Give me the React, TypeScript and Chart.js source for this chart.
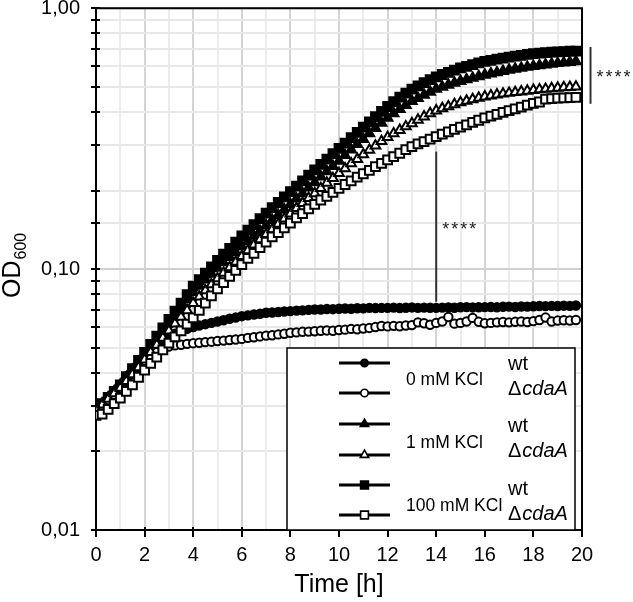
import React, { useEffect, useRef } from "react";
import { Chart, registerables } from "chart.js";

Chart.register(...registerables);

const FONT = "'Liberation Sans', Arial, Helvetica, sans-serif";

// time in hours (15-min sampling)
const timeH = [
  0, 0.25, 0.5, 0.75, 1, 1.25, 1.5, 1.75, 2, 2.25,
  2.5, 2.75, 3, 3.25, 3.5, 3.75, 4, 4.25, 4.5, 4.75,
  5, 5.25, 5.5, 5.75, 6, 6.25, 6.5, 6.75, 7, 7.25,
  7.5, 7.75, 8, 8.25, 8.5, 8.75, 9, 9.25, 9.5, 9.75,
  10, 10.25, 10.5, 10.75, 11, 11.25, 11.5, 11.75, 12, 12.25,
  12.5, 12.75, 13, 13.25, 13.5, 13.75, 14, 14.25, 14.5, 14.75,
  15, 15.25, 15.5, 15.75, 16, 16.25, 16.5, 16.75, 17, 17.25,
  17.5, 17.75, 18, 18.25, 18.5, 18.75, 19, 19.25, 19.5, 19.75,
];

const wt0 = [
  0.0290, 0.0305, 0.0320, 0.0340, 0.0360, 0.0385, 0.0410, 0.0435, 0.0460, 0.0485,
  0.0510, 0.0530, 0.0550, 0.0565, 0.0580, 0.0590, 0.0600, 0.0608, 0.0615, 0.0622,
  0.0630, 0.0637, 0.0645, 0.0652, 0.0660, 0.0665, 0.0670, 0.0674, 0.0680, 0.0682,
  0.0685, 0.0688, 0.0690, 0.0693, 0.0695, 0.0698, 0.0700, 0.0700, 0.0703, 0.0702,
  0.0705, 0.0706, 0.0705, 0.0708, 0.0707, 0.0710, 0.0709, 0.0710, 0.0710, 0.0712,
  0.0709, 0.0711, 0.0713, 0.0710, 0.0712, 0.0711, 0.0710, 0.0712, 0.0713, 0.0711,
  0.0714, 0.0715, 0.0713, 0.0714, 0.0715, 0.0716, 0.0714, 0.0717, 0.0718, 0.0716,
  0.0719, 0.0718, 0.0720, 0.0722, 0.0721, 0.0723, 0.0722, 0.0724, 0.0723, 0.0725,
];

const cdaA0 = [
  0.0290, 0.0300, 0.0315, 0.0330, 0.0350, 0.0370, 0.0395, 0.0420, 0.0445, 0.0465,
  0.0480, 0.0495, 0.0505, 0.0510, 0.0513, 0.0517, 0.0520, 0.0522, 0.0525, 0.0527,
  0.0530, 0.0532, 0.0535, 0.0537, 0.0540, 0.0545, 0.0548, 0.0552, 0.0556, 0.0558,
  0.0562, 0.0565, 0.0570, 0.0572, 0.0575, 0.0576, 0.0578, 0.0580, 0.0582, 0.0580,
  0.0584, 0.0586, 0.0590, 0.0588, 0.0592, 0.0595, 0.0600, 0.0605, 0.0603, 0.0606,
  0.0604, 0.0608, 0.0610, 0.0625, 0.0620, 0.0612, 0.0622, 0.0630, 0.0655, 0.0618,
  0.0622, 0.0630, 0.0650, 0.0628, 0.0620, 0.0622, 0.0625, 0.0627, 0.0625, 0.0628,
  0.0630, 0.0627, 0.0632, 0.0638, 0.0652, 0.0630, 0.0635, 0.0637, 0.0635, 0.0638,
];

const wt1 = [
  0.0290, 0.0305, 0.0322, 0.0340, 0.0360, 0.0385, 0.0410, 0.0440, 0.0470, 0.0503,
  0.0537, 0.0578, 0.0622, 0.0668, 0.0715, 0.0765, 0.0815, 0.0862, 0.0910, 0.0958,
  0.1010, 0.106, 0.111, 0.116, 0.122, 0.128, 0.134, 0.140, 0.147, 0.154,
  0.161, 0.169, 0.177, 0.186, 0.195, 0.205, 0.215, 0.226, 0.237, 0.248,
  0.260, 0.273, 0.287, 0.301, 0.315, 0.331, 0.347, 0.363, 0.380, 0.395,
  0.410, 0.425, 0.440, 0.452, 0.465, 0.478, 0.490, 0.499, 0.508, 0.517,
  0.525, 0.533, 0.540, 0.548, 0.555, 0.561, 0.567, 0.574, 0.580, 0.585,
  0.590, 0.595, 0.600, 0.604, 0.608, 0.612, 0.615, 0.618, 0.621, 0.625,
];

const cdaA1 = [
  0.0290, 0.0302, 0.0318, 0.0334, 0.0350, 0.0372, 0.0395, 0.0420, 0.0450, 0.0480,
  0.0512, 0.0545, 0.0580, 0.0618, 0.0655, 0.0695, 0.0740, 0.0783, 0.0828, 0.0873,
  0.0920, 0.0967, 0.1015, 0.1065, 0.112, 0.118, 0.124, 0.130, 0.136, 0.142,
  0.149, 0.156, 0.163, 0.171, 0.179, 0.187, 0.195, 0.204, 0.214, 0.223,
  0.233, 0.243, 0.254, 0.264, 0.275, 0.286, 0.297, 0.309, 0.320, 0.331,
  0.341, 0.352, 0.362, 0.373, 0.384, 0.395, 0.405, 0.413, 0.420, 0.428,
  0.435, 0.441, 0.447, 0.453, 0.458, 0.462, 0.466, 0.470, 0.473, 0.476,
  0.479, 0.482, 0.485, 0.488, 0.490, 0.493, 0.495, 0.497, 0.498, 0.500,
];

const wt100 = [
  0.0290, 0.0305, 0.0322, 0.0340, 0.0360, 0.0387, 0.0415, 0.0447, 0.0480, 0.0515,
  0.0553, 0.0595, 0.0642, 0.0690, 0.0740, 0.0798, 0.0860, 0.0912, 0.0965, 0.102,
  0.108, 0.114, 0.120, 0.127, 0.134, 0.141, 0.148, 0.156, 0.164, 0.172,
  0.180, 0.189, 0.198, 0.208, 0.218, 0.229, 0.240, 0.252, 0.264, 0.277,
  0.290, 0.304, 0.319, 0.334, 0.350, 0.367, 0.384, 0.402, 0.420, 0.438,
  0.456, 0.473, 0.490, 0.504, 0.518, 0.532, 0.545, 0.557, 0.568, 0.579,
  0.590, 0.599, 0.608, 0.617, 0.625, 0.631, 0.638, 0.644, 0.650, 0.655,
  0.660, 0.665, 0.670, 0.673, 0.676, 0.678, 0.680, 0.682, 0.684, 0.685,
];

const cdaA100 = [
  0.0275, 0.0278, 0.0290, 0.0305, 0.0320, 0.0340, 0.0360, 0.0385, 0.0410, 0.0435,
  0.0460, 0.0490, 0.0520, 0.0550, 0.0580, 0.0615, 0.0650, 0.0695, 0.0740, 0.0790,
  0.0840, 0.0888, 0.0937, 0.0988, 0.104, 0.110, 0.115, 0.121, 0.127, 0.133,
  0.138, 0.144, 0.150, 0.157, 0.163, 0.170, 0.177, 0.184, 0.190, 0.197,
  0.204, 0.211, 0.218, 0.225, 0.232, 0.239, 0.247, 0.254, 0.262, 0.270,
  0.278, 0.287, 0.295, 0.302, 0.308, 0.315, 0.322, 0.329, 0.336, 0.343,
  0.350, 0.357, 0.365, 0.372, 0.380, 0.386, 0.392, 0.399, 0.405, 0.411,
  0.418, 0.425, 0.432, 0.437, 0.448, 0.450, 0.452, 0.453, 0.454, 0.455,
];

// axis ticks
const xTickLabels = [0, 2, 4, 6, 8, 10, 12, 14, 16, 18, 20];
const yTickValues = [0.01, 0.1, 1];
const yTickLabels = ["0,01", "0,10", "1,00"];

// legend text
const legendConc = ["0 mM KCl", "1 mM KCl", "100 mM KCl"];
const legendWt = "wt";
const legendMutPrefix = "\u0394";
const legendMutName = "cdaA";

// significance brackets
const sigTimes = [20.35, 14];
const sigTop = [0.71, 0.282];
const sigBottom = [0.43, 0.075];
const sigLabels = ["****", "****"];

type Marker = { style: "circle" | "triangle" | "rect"; filled: boolean };
const seriesMarkers: Marker[] = [
  { style: "circle", filled: true },
  { style: "circle", filled: false },
  { style: "triangle", filled: true },
  { style: "triangle", filled: false },
  { style: "rect", filled: true },
  { style: "rect", filled: false },
];
const seriesValues = [wt0, cdaA0, wt1, cdaA1, wt100, cdaA100];
const seriesNames = ["wt 0 mM", "cdaA 0 mM", "wt 1 mM", "cdaA 1 mM", "wt 100 mM", "cdaA 100 mM"];
const seriesOrder = [6, 3, 5, 2, 4, 1];

function radiusFor(style: string) {
  if (style === "rect") return 6.2;
  if (style === "triangle") return 5.6;
  return 4.2;
}

function drawMarker(ctx: CanvasRenderingContext2D, m: Marker, x: number, y: number) {
  ctx.save();
  ctx.fillStyle = m.filled ? "#000" : "#fff";
  ctx.strokeStyle = "#000";
  ctx.lineWidth = 1.6;
  ctx.beginPath();
  if (m.style === "circle") {
    ctx.arc(x, y, 3.7, 0, Math.PI * 2);
  } else if (m.style === "rect") {
    const s = 3.9;
    ctx.rect(x - s, y - s, 2 * s, 2 * s);
  } else {
    const r = 4.8;
    const h = (r * 3) / 2;
    const e = r * Math.sqrt(3);
    ctx.moveTo(x - e / 2, y + h / 3);
    ctx.lineTo(x + e / 2, y + h / 3);
    ctx.lineTo(x, y - (2 * h) / 3);
    ctx.closePath();
  }
  ctx.fill();
  ctx.stroke();
  ctx.restore();
}

const decorPlugin = {
  id: "decor",
  afterDraw(chart: any) {
    const ctx: CanvasRenderingContext2D = chart.ctx;
    const { left, right, top, bottom } = chart.chartArea;
    const xs = chart.scales.x;
    const ys = chart.scales.y;
    ctx.save();

    // frame (top + right)
    ctx.strokeStyle = "#000";
    ctx.lineWidth = 2;
    ctx.beginPath();
    ctx.moveTo(left, top);
    ctx.lineTo(right, top);
    ctx.lineTo(right, bottom);
    ctx.stroke();

    // y ticks crossing the axis
    ctx.lineWidth = 2;
    for (const t of ys.ticks) {
      const py = Math.round(ys.getPixelForValue(t.value));
      ctx.beginPath();
      ctx.moveTo(left - 5, py);
      ctx.lineTo(left + 4, py);
      ctx.stroke();
    }
    // x ticks crossing the axis
    for (const v of xTickLabels) {
      const px = Math.round(xs.getPixelForValue(v));
      ctx.beginPath();
      ctx.moveTo(px, bottom - 3);
      ctx.lineTo(px, bottom + 7);
      ctx.stroke();
    }

    // significance brackets
    for (let i = 0; i < sigTimes.length; i++) {
      const px = xs.getPixelForValue(sigTimes[i]);
      const y1 = ys.getPixelForValue(sigTop[i]);
      const y2 = ys.getPixelForValue(sigBottom[i]);
      ctx.strokeStyle = "#333";
      ctx.lineWidth = 2;
      ctx.beginPath();
      ctx.moveTo(px, y1);
      ctx.lineTo(px, y2);
      ctx.stroke();
      ctx.fillStyle = "#222";
      ctx.font = `18px ${FONT}`;
      (ctx as any).letterSpacing = "2px";
      ctx.textAlign = "left";
      ctx.textBaseline = "alphabetic";
      ctx.fillText(sigLabels[i], px + 6, (y1 + y2) / 2 + 8);
      (ctx as any).letterSpacing = "0px";
    }

    // legend box
    const bx = 287, by = 348, bw = 288, bh = bottom - 348;
    ctx.fillStyle = "#fff";
    ctx.fillRect(bx, by, bw, bh);
    ctx.strokeStyle = "#000";
    ctx.lineWidth = 1.5;
    ctx.strokeRect(bx, by, bw, bh);

    const rowY = [363, 393, 424, 455, 485, 515];
    for (let i = 0; i < 6; i++) {
      ctx.strokeStyle = "#000";
      ctx.lineWidth = 3;
      ctx.beginPath();
      ctx.moveTo(339, rowY[i]);
      ctx.lineTo(390, rowY[i]);
      ctx.stroke();
      drawMarker(ctx, seriesMarkers[i], 364.5, rowY[i]);
    }
    ctx.fillStyle = "#000";
    ctx.textAlign = "left";
    ctx.textBaseline = "alphabetic";
    const concBase = [385, 448, 511];
    const wtBase = [370, 432, 495];
    const mutBase = [395, 457, 520];
    for (let g = 0; g < 3; g++) {
      ctx.font = `17.5px ${FONT}`;
      ctx.fillText(legendConc[g], 406, concBase[g]);
      ctx.font = `20px ${FONT}`;
      ctx.fillText(legendWt, 508, wtBase[g]);
      ctx.fillText(legendMutPrefix, 508, mutBase[g]);
      const dw = ctx.measureText(legendMutPrefix).width;
      ctx.font = `italic 20px ${FONT}`;
      ctx.fillText(legendMutName, 508 + dw + 1, mutBase[g]);
    }

    // x axis title
    ctx.font = `25px ${FONT}`;
    ctx.textAlign = "center";
    ctx.textBaseline = "middle";
    ctx.fillText("Time [h]", (left + right) / 2, 585);

    // y axis title OD600 (rotated)
    ctx.save();
    ctx.translate(20, 298);
    ctx.rotate(-Math.PI / 2);
    ctx.textAlign = "left";
    ctx.textBaseline = "alphabetic";
    ctx.font = `25px ${FONT}`;
    ctx.fillText("OD", 0, 0);
    const odw = ctx.measureText("OD").width;
    ctx.font = `16px ${FONT}`;
    ctx.fillText("600", odw + 1, 6);
    ctx.restore();

    ctx.restore();
  },
};

export default function App() {
  const ref = useRef<HTMLCanvasElement | null>(null);
  useEffect(() => {
    if (!ref.current) return;
    const datasets = seriesValues.map((vals, i) => {
      const m = seriesMarkers[i];
      return {
        label: seriesNames[i],
        data: vals.map((v, k) => ({ x: timeH[k], y: v })),
        showLine: true,
        borderColor: "#000",
        borderWidth: 2,
        pointStyle: m.style,
        pointRadius: radiusFor(m.style),
        pointBackgroundColor: m.filled ? "#000" : "#fff",
        pointBorderColor: "#000",
        pointBorderWidth: 2,
        order: seriesOrder[i],
      };
    });
    const isMajor = (v: number) => yTickValues.some((t) => Math.abs(t - v) < 1e-9);
    const chart = new Chart(ref.current, {
      type: "scatter",
      data: { datasets },
      options: {
        animation: false,
        responsive: false,
        devicePixelRatio: 1,
        layout: { padding: { left: 0, top: 6, right: 51, bottom: 0 } },
        plugins: {
          legend: { display: false },
          tooltip: { enabled: false },
        },
        scales: {
          x: {
            type: "linear",
            min: 0,
            max: 20,
            ticks: {
              stepSize: 1,
              autoSkip: false,
              maxRotation: 0,
              padding: 13,
              color: "#000",
              font: { size: 20, family: FONT },
              callback: (v: any) => (xTickLabels.includes(Number(v)) ? String(v) : ""),
            },
            grid: {
              drawTicks: false,
              lineWidth: 2,
              color: (c: any) => (c.tick && c.tick.value % 2 === 0 ? "#d4d4d4" : "#ececec"),
            },
            border: { color: "#000", width: 2 },
            afterFit: (s: any) => {
              s.height = 72;
              s.paddingLeft = 0;
              s.paddingRight = 0;
            },
          },
          y: {
            type: "logarithmic",
            min: 0.01,
            max: 1,
            ticks: {
              autoSkip: false,
              padding: 16,
              color: "#000",
              font: { size: 20, family: FONT },
              callback: (v: any) => {
                const idx = yTickValues.findIndex((t) => Math.abs(t - Number(v)) < 1e-9);
                return idx >= 0 ? yTickLabels[idx] : "";
              },
            },
            grid: {
              drawTicks: false,
              lineWidth: 2,
              color: (c: any) => (c.tick && isMajor(c.tick.value) ? "#d0d0d0" : "#e8e8e8"),
            },
            border: { color: "#000", width: 2 },
            afterFit: (s: any) => {
              s.width = 96;
              s.paddingTop = 0;
              s.paddingBottom = 0;
            },
          },
        },
      },
      plugins: [decorPlugin],
    } as any);
    return () => chart.destroy();
  }, []);
  return (
    <div style={{ position: "fixed", left: 0, top: 0, width: 633, height: 602, background: "#fff" }}>
      <canvas ref={ref} width={633} height={602} style={{ display: "block" }} />
    </div>
  );
}
